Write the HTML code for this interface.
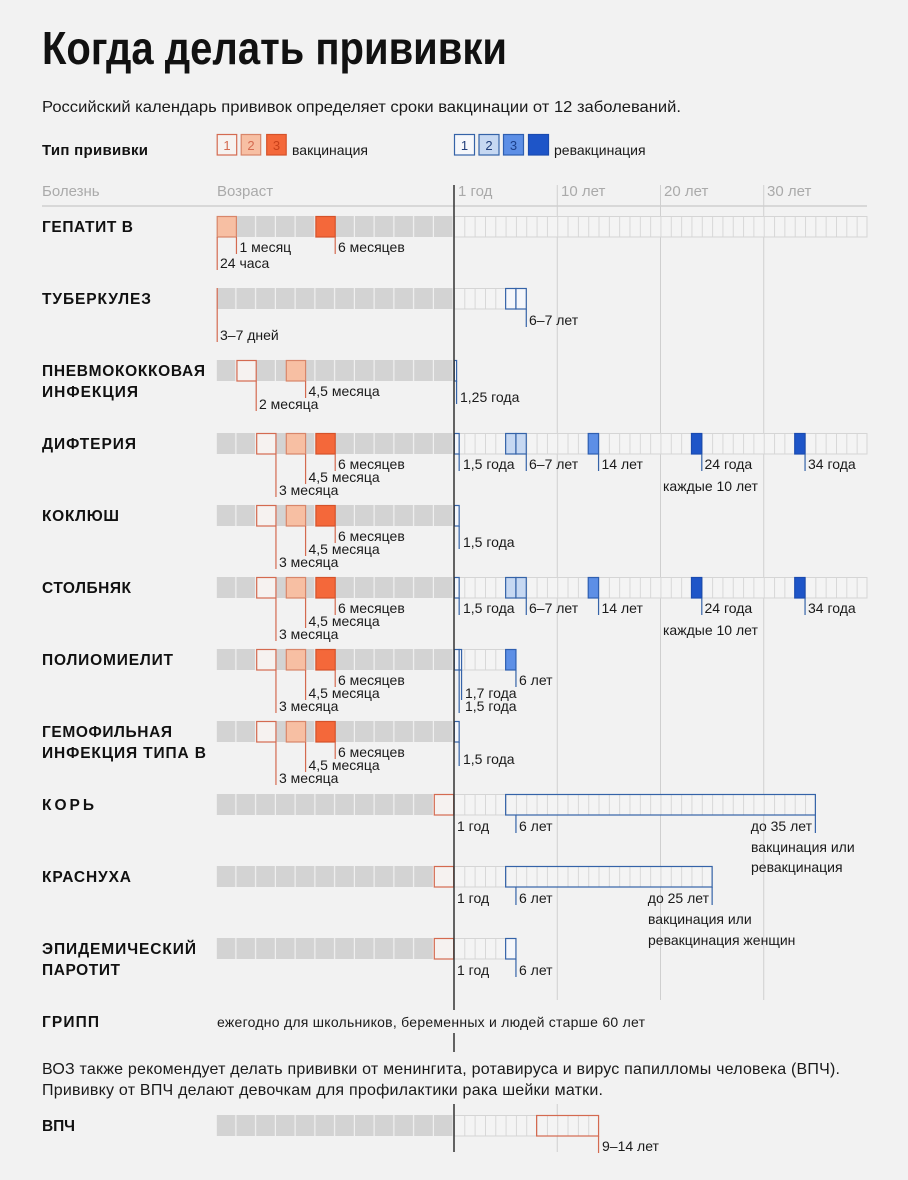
<!DOCTYPE html>
<html><head><meta charset="utf-8"><style>
html,body{margin:0;padding:0;background:#f2f2f2;}
svg{display:block;}
text{font-family:"Liberation Sans","DejaVu Sans",sans-serif;}
.n{font-weight:bold;font-size:15.5px;fill:#111;}
.l{font-size:14px;fill:#1a1a1a;}
.h{font-size:15px;fill:#aaaaaa;}
.rl{stroke:#d46a50;stroke-width:1.2;fill:none;}
.bl{stroke:#3563a8;stroke-width:1.2;fill:none;}
.r1{fill:#f6f2f0;stroke:#d46a50;stroke-width:1.2;}
.r2{fill:#f7bfa3;stroke:#d8866a;stroke-width:1.2;}
.r3{fill:#f4683a;stroke:#d5522a;stroke-width:1.2;}
.b1{fill:#f5f7fb;stroke:#3563a8;stroke-width:1.2;}
.b2{fill:#c6d8f2;stroke:#3563a8;stroke-width:1.2;}
.b3{fill:#5d8fe6;stroke:#2f5fb0;stroke-width:1.2;}
.b4{fill:#1e55c8;stroke:#1a4bb0;stroke-width:1.2;}
.mb{fill:url(#mp);}
.yb{fill:url(#yp);stroke:#d5d5d5;stroke-width:1;}
.g{stroke:#cfcfcf;stroke-width:1;}
</style></head><body>
<svg width="908" height="1180" viewBox="0 0 908 1180" xmlns="http://www.w3.org/2000/svg">
<defs>
<pattern id="mp" patternUnits="userSpaceOnUse" x="216.7" y="0" width="19.75" height="1180">
<rect x="0" y="0" width="18.6" height="1180" fill="#d3d3d3"/>
</pattern>
<pattern id="yp" patternUnits="userSpaceOnUse" x="454" y="0" width="10.325" height="1180">
<rect x="0" y="0" width="10.325" height="1180" fill="#f4f4f4"/>
<rect x="0" y="0" width="0.9" height="1180" fill="#d5d5d5"/>
</pattern>
</defs>
<rect width="908" height="1180" fill="#f2f2f2"/>

<!-- Title -->
<text x="42" y="64" font-size="46" font-weight="bold" fill="#111" textLength="465" lengthAdjust="spacingAndGlyphs">Когда делать прививки</text>
<text x="42" y="112" font-size="16" fill="#1a1a1a" textLength="639" lengthAdjust="spacingAndGlyphs">Российский календарь прививок определяет сроки вакцинации от 12 заболеваний.</text>

<!-- Legend -->
<text x="42" y="155" font-size="15" font-weight="bold" fill="#111" textLength="106">Тип прививки</text>
<rect class="r1" x="217.2" y="134.5" width="19.5" height="20.5"/>
<text x="227" y="150" font-size="13" fill="#d46a50" text-anchor="middle">1</text>
<rect class="r2" x="241.2" y="134.5" width="19.5" height="20.5"/>
<text x="251" y="150" font-size="13" fill="#d46a50" text-anchor="middle">2</text>
<rect class="r3" x="266.7" y="134.5" width="19.5" height="20.5"/>
<text x="276.5" y="150" font-size="13" fill="#c8401a" text-anchor="middle">3</text>
<text x="292" y="155" font-size="14" fill="#1a1a1a">вакцинация</text>

<rect class="b1" x="454.5" y="134.5" width="20" height="20.5"/>
<text x="464.5" y="150" font-size="13" fill="#1f3d7a" text-anchor="middle">1</text>
<rect class="b2" x="479" y="134.5" width="20" height="20.5"/>
<text x="489" y="150" font-size="13" fill="#1f3d7a" text-anchor="middle">2</text>
<rect class="b3" x="503.5" y="134.5" width="20" height="20.5"/>
<text x="513.5" y="150" font-size="13" fill="#1c3f8a" text-anchor="middle">3</text>
<rect class="b4" x="528.5" y="134.5" width="20" height="20.5"/>
<text x="554" y="155" font-size="14" fill="#1a1a1a">ревакцинация</text>

<!-- Header -->
<text class="h" x="42" y="196">Болезнь</text>
<text class="h" x="217" y="196">Возраст</text>
<text class="h" x="458" y="196">1 год</text>
<text class="h" x="561" y="196">10 лет</text>
<text class="h" x="664" y="196">20 лет</text>
<text class="h" x="767" y="196">30 лет</text>
<line x1="42" y1="206" x2="867" y2="206" stroke="#cfcfcf" stroke-width="1.5"/>

<!-- gridlines -->
<line class="g" x1="557.25" y1="185" x2="557.25" y2="1000"/>
<line class="g" x1="660.5" y1="185" x2="660.5" y2="1000"/>
<line class="g" x1="763.75" y1="185" x2="763.75" y2="1000"/>
<line class="g" x1="557.25" y1="1104" x2="557.25" y2="1152"/>

<!-- Row 0: Гепатит В (top 216) -->
<text class="n" x="42" y="232" textLength="91">ГЕПАТИТ В</text>
<rect class="mb" x="216.7" y="216" width="237.3" height="21"/>
<rect class="yb" x="454" y="216.5" width="413" height="20.5"/>
<rect class="r2" x="217.2" y="216.5" width="19.2" height="20.5"/>
<rect class="r3" x="315.9" y="216.5" width="19.3" height="20.5"/>
<line class="rl" x1="217.2" y1="237" x2="217.2" y2="270"/>
<text class="l" x="220" y="268">24 часа</text>
<line class="rl" x1="236.45" y1="237" x2="236.45" y2="254"/>
<text class="l" x="239.5" y="252">1 месяц</text>
<line class="rl" x1="335.2" y1="237" x2="335.2" y2="254"/>
<text class="l" x="338" y="252">6 месяцев</text>

<!-- Row 1: Туберкулез (top 288) -->
<text class="n" x="42" y="304" textLength="109">ТУБЕРКУЛЕЗ</text>
<rect class="mb" x="216.7" y="288" width="237.3" height="21"/>
<rect class="yb" x="454" y="288.5" width="72.28" height="20.5"/>
<rect class="b1" x="505.63" y="288.5" width="10.32" height="20.5"/>
<rect class="b1" x="515.95" y="288.5" width="10.33" height="20.5"/>
<line class="rl" x1="217.2" y1="288" x2="217.2" y2="342"/>
<text class="l" x="220" y="340">3–7 дней</text>
<line class="bl" x1="526.28" y1="309" x2="526.28" y2="327"/>
<text class="l" x="529" y="325">6–7 лет</text>

<!-- Row 2: Пневмококковая (top 360) -->
<text class="n" x="42" y="376" textLength="163">ПНЕВМОКОККОВАЯ</text>
<text class="n" x="42" y="397" textLength="96">ИНФЕКЦИЯ</text>
<rect class="mb" x="216.7" y="360" width="237.3" height="21"/>
<rect class="r1" x="236.95" y="360.5" width="19.25" height="20.5"/>
<rect class="r2" x="286.3" y="360.5" width="19.28" height="20.5"/>
<line class="rl" x1="305.58" y1="381" x2="305.58" y2="398"/>
<text class="l" x="308.5" y="396">4,5 месяца</text>
<line class="rl" x1="256.2" y1="381" x2="256.2" y2="411"/>
<text class="l" x="259" y="409">2 месяца</text>
<rect class="b1" x="454.3" y="360.5" width="2.3" height="20.5"/>
<line class="bl" x1="456.58" y1="381" x2="456.58" y2="404"/>
<text class="l" x="460" y="402">1,25 года</text>

<!-- Row 3: Дифтерия (top 433) -->
<text class="n" x="42" y="449" textLength="94">ДИФТЕРИЯ</text>
<rect class="mb" x="216.7" y="433" width="237.3" height="21"/>
<rect class="yb" x="454" y="433.5" width="413" height="20.5"/>
<rect class="r1" x="256.7" y="433.5" width="19.25" height="20.5"/>
<rect class="r2" x="286.3" y="433.5" width="19.28" height="20.5"/>
<rect class="r3" x="315.9" y="433.5" width="19.3" height="20.5"/>
<line class="rl" x1="335.2" y1="454" x2="335.2" y2="471"/>
<text class="l" x="338" y="469">6 месяцев</text>
<line class="rl" x1="305.58" y1="454" x2="305.58" y2="484"/>
<text class="l" x="308.5" y="482">4,5 месяца</text>
<line class="rl" x1="275.95" y1="454" x2="275.95" y2="497"/>
<text class="l" x="279" y="495">3 месяца</text>
<rect class="b1" x="454.3" y="433.5" width="4.86" height="20.5"/>
<line class="bl" x1="459.16" y1="454" x2="459.16" y2="471"/>
<text class="l" x="463" y="469">1,5 года</text>
<rect class="b2" x="505.63" y="433.5" width="10.32" height="20.5"/>
<rect class="b2" x="515.95" y="433.5" width="10.33" height="20.5"/>
<line class="bl" x1="526.28" y1="454" x2="526.28" y2="471"/>
<text class="l" x="529" y="469">6–7 лет</text>
<rect class="b3" x="588.23" y="433.5" width="10.32" height="20.5"/>
<line class="bl" x1="598.55" y1="454" x2="598.55" y2="471"/>
<text class="l" x="601.5" y="469">14 лет</text>
<rect class="b4" x="691.48" y="433.5" width="10.32" height="20.5"/>
<line class="bl" x1="701.8" y1="454" x2="701.8" y2="471"/>
<text class="l" x="704.5" y="469">24 года</text>
<rect class="b4" x="794.73" y="433.5" width="10.32" height="20.5"/>
<line class="bl" x1="805.05" y1="454" x2="805.05" y2="471"/>
<text class="l" x="808" y="469">34 года</text>
<text class="l" x="663" y="491">каждые 10 лет</text>

<!-- Row 4: Коклюш (top 505) -->
<text class="n" x="42" y="521" textLength="77">КОКЛЮШ</text>
<rect class="mb" x="216.7" y="505" width="237.3" height="21"/>
<rect class="r1" x="256.7" y="505.5" width="19.25" height="20.5"/>
<rect class="r2" x="286.3" y="505.5" width="19.28" height="20.5"/>
<rect class="r3" x="315.9" y="505.5" width="19.3" height="20.5"/>
<line class="rl" x1="335.2" y1="526" x2="335.2" y2="543"/>
<text class="l" x="338" y="541">6 месяцев</text>
<line class="rl" x1="305.58" y1="526" x2="305.58" y2="556"/>
<text class="l" x="308.5" y="554">4,5 месяца</text>
<line class="rl" x1="275.95" y1="526" x2="275.95" y2="569"/>
<text class="l" x="279" y="567">3 месяца</text>
<rect class="b1" x="454.3" y="505.5" width="4.86" height="20.5"/>
<line class="bl" x1="459.16" y1="526" x2="459.16" y2="549"/>
<text class="l" x="463" y="547">1,5 года</text>

<!-- Row 5: Столбняк (top 577) -->
<text class="n" x="42" y="593" textLength="89">СТОЛБНЯК</text>
<rect class="mb" x="216.7" y="577" width="237.3" height="21"/>
<rect class="yb" x="454" y="577.5" width="413" height="20.5"/>
<rect class="r1" x="256.7" y="577.5" width="19.25" height="20.5"/>
<rect class="r2" x="286.3" y="577.5" width="19.28" height="20.5"/>
<rect class="r3" x="315.9" y="577.5" width="19.3" height="20.5"/>
<line class="rl" x1="335.2" y1="598" x2="335.2" y2="615"/>
<text class="l" x="338" y="613">6 месяцев</text>
<line class="rl" x1="305.58" y1="598" x2="305.58" y2="628"/>
<text class="l" x="308.5" y="626">4,5 месяца</text>
<line class="rl" x1="275.95" y1="598" x2="275.95" y2="641"/>
<text class="l" x="279" y="639">3 месяца</text>
<rect class="b1" x="454.3" y="577.5" width="4.86" height="20.5"/>
<line class="bl" x1="459.16" y1="598" x2="459.16" y2="615"/>
<text class="l" x="463" y="613">1,5 года</text>
<rect class="b2" x="505.63" y="577.5" width="10.32" height="20.5"/>
<rect class="b2" x="515.95" y="577.5" width="10.33" height="20.5"/>
<line class="bl" x1="526.28" y1="598" x2="526.28" y2="615"/>
<text class="l" x="529" y="613">6–7 лет</text>
<rect class="b3" x="588.23" y="577.5" width="10.32" height="20.5"/>
<line class="bl" x1="598.55" y1="598" x2="598.55" y2="615"/>
<text class="l" x="601.5" y="613">14 лет</text>
<rect class="b4" x="691.48" y="577.5" width="10.32" height="20.5"/>
<line class="bl" x1="701.8" y1="598" x2="701.8" y2="615"/>
<text class="l" x="704.5" y="613">24 года</text>
<rect class="b4" x="794.73" y="577.5" width="10.32" height="20.5"/>
<line class="bl" x1="805.05" y1="598" x2="805.05" y2="615"/>
<text class="l" x="808" y="613">34 года</text>
<text class="l" x="663" y="635">каждые 10 лет</text>

<!-- Row 6: Полиомиелит (top 649) -->
<text class="n" x="42" y="665" textLength="131">ПОЛИОМИЕЛИТ</text>
<rect class="mb" x="216.7" y="649" width="237.3" height="21"/>
<rect class="yb" x="454" y="649.5" width="61.95" height="20.5"/>
<rect class="r1" x="256.7" y="649.5" width="19.25" height="20.5"/>
<rect class="r2" x="286.3" y="649.5" width="19.28" height="20.5"/>
<rect class="r3" x="315.9" y="649.5" width="19.3" height="20.5"/>
<line class="rl" x1="335.2" y1="670" x2="335.2" y2="687"/>
<text class="l" x="338" y="685">6 месяцев</text>
<line class="rl" x1="305.58" y1="670" x2="305.58" y2="700"/>
<text class="l" x="308.5" y="698">4,5 месяца</text>
<line class="rl" x1="275.95" y1="670" x2="275.95" y2="713"/>
<text class="l" x="279" y="711">3 месяца</text>
<rect class="b1" x="454.3" y="649.5" width="4.86" height="20.5"/>
<rect class="b1" x="459.16" y="649.5" width="2.4" height="20.5"/>
<line class="bl" x1="461.56" y1="670" x2="461.56" y2="700"/>
<text class="l" x="465" y="698">1,7 года</text>
<line class="bl" x1="459.16" y1="670" x2="459.16" y2="713"/>
<text class="l" x="465" y="711">1,5 года</text>
<rect class="b3" x="505.63" y="649.5" width="10.32" height="20.5"/>
<line class="bl" x1="515.95" y1="670" x2="515.95" y2="687"/>
<text class="l" x="519" y="685">6 лет</text>

<!-- Row 7: Гемофильная (top 721) -->
<text class="n" x="42" y="737" textLength="130">ГЕМОФИЛЬНАЯ</text>
<text class="n" x="42" y="758" textLength="164">ИНФЕКЦИЯ ТИПА В</text>
<rect class="mb" x="216.7" y="721" width="237.3" height="21"/>
<rect class="r1" x="256.7" y="721.5" width="19.25" height="20.5"/>
<rect class="r2" x="286.3" y="721.5" width="19.28" height="20.5"/>
<rect class="r3" x="315.9" y="721.5" width="19.3" height="20.5"/>
<line class="rl" x1="335.2" y1="742" x2="335.2" y2="759"/>
<text class="l" x="338" y="757">6 месяцев</text>
<line class="rl" x1="305.58" y1="742" x2="305.58" y2="772"/>
<text class="l" x="308.5" y="770">4,5 месяца</text>
<line class="rl" x1="275.95" y1="742" x2="275.95" y2="785"/>
<text class="l" x="279" y="783">3 месяца</text>
<rect class="b1" x="454.3" y="721.5" width="4.86" height="20.5"/>
<line class="bl" x1="459.16" y1="742" x2="459.16" y2="766"/>
<text class="l" x="463" y="764">1,5 года</text>

<!-- Row 8: Корь (top 794) -->
<text class="n" x="42" y="810" textLength="52">КОРЬ</text>
<rect class="mb" x="216.7" y="794" width="237.3" height="21"/>
<rect class="r1" x="434.3" y="794.5" width="19.4" height="20.5"/>
<rect class="yb" x="454" y="794.5" width="361.38" height="20.5"/>
<rect x="505.63" y="794.5" width="309.75" height="20.5" fill="none" stroke="#3563a8" stroke-width="1.2"/>
<text class="l" x="457" y="831">1 год</text>
<line class="bl" x1="515.95" y1="815" x2="515.95" y2="833"/>
<text class="l" x="519" y="831">6 лет</text>
<line class="bl" x1="815.38" y1="815" x2="815.38" y2="833"/>
<text class="l" x="812" y="831" text-anchor="end">до 35 лет</text>
<text class="l" x="751" y="852">вакцинация или</text>
<text class="l" x="751" y="872">ревакцинация</text>

<!-- Row 9: Краснуха (top 866) -->
<text class="n" x="42" y="882" textLength="89">КРАСНУХА</text>
<rect class="mb" x="216.7" y="866" width="237.3" height="21"/>
<rect class="r1" x="434.3" y="866.5" width="19.4" height="20.5"/>
<rect class="yb" x="454" y="866.5" width="258.13" height="20.5"/>
<rect x="505.63" y="866.5" width="206.5" height="20.5" fill="none" stroke="#3563a8" stroke-width="1.2"/>
<text class="l" x="457" y="903">1 год</text>
<line class="bl" x1="515.95" y1="887" x2="515.95" y2="905"/>
<text class="l" x="519" y="903">6 лет</text>
<line class="bl" x1="712.13" y1="887" x2="712.13" y2="905"/>
<text class="l" x="709" y="903" text-anchor="end">до 25 лет</text>
<text class="l" x="648" y="924">вакцинация или</text>
<text class="l" x="648" y="945">ревакцинация женщин</text>

<!-- Row 10: Эпидемический паротит (top 938) -->
<text class="n" x="42" y="954" textLength="154">ЭПИДЕМИЧЕСКИЙ</text>
<text class="n" x="42" y="975" textLength="78">ПАРОТИТ</text>
<rect class="mb" x="216.7" y="938" width="237.3" height="21"/>
<rect class="r1" x="434.3" y="938.5" width="19.4" height="20.5"/>
<rect class="yb" x="454" y="938.5" width="61.95" height="20.5"/>
<rect class="b1" x="505.63" y="938.5" width="10.32" height="20.5"/>
<text class="l" x="457" y="975">1 год</text>
<line class="bl" x1="515.95" y1="959" x2="515.95" y2="977"/>
<text class="l" x="519" y="975">6 лет</text>

<!-- Грипп -->
<text class="n" x="42" y="1027" textLength="57">ГРИПП</text>
<text x="217" y="1027" font-size="14" fill="#1a1a1a" textLength="428">ежегодно для школьников, беременных и людей старше 60 лет</text>

<!-- Note -->
<text x="42" y="1074" font-size="16" fill="#1a1a1a" textLength="798">ВОЗ также рекомендует делать прививки от менингита, ротавируса и вирус папилломы человека (ВПЧ).</text>
<text x="42" y="1095" font-size="16" fill="#1a1a1a" textLength="561">Прививку от ВПЧ делают девочкам для профилактики рака шейки матки.</text>

<!-- ВПЧ (top 1115) -->
<text class="n" x="42" y="1131" textLength="33">ВПЧ</text>
<rect class="mb" x="216.7" y="1115" width="237.3" height="21"/>
<rect class="yb" x="454" y="1115.5" width="144.55" height="20.5"/>
<rect x="536.6" y="1115.5" width="61.95" height="20.5" fill="none" stroke="#d46a50" stroke-width="1.2"/>
<line class="rl" x1="598.55" y1="1136" x2="598.55" y2="1153"/>
<text class="l" x="602" y="1151">9–14 лет</text>

<!-- main axis -->
<line x1="454" y1="185" x2="454" y2="1010" stroke="#333" stroke-width="1.5"/>
<line x1="454" y1="1033" x2="454" y2="1052" stroke="#333" stroke-width="1.5"/>
<line x1="454" y1="1104" x2="454" y2="1152" stroke="#333" stroke-width="1.5"/>
</svg>
</body></html>
